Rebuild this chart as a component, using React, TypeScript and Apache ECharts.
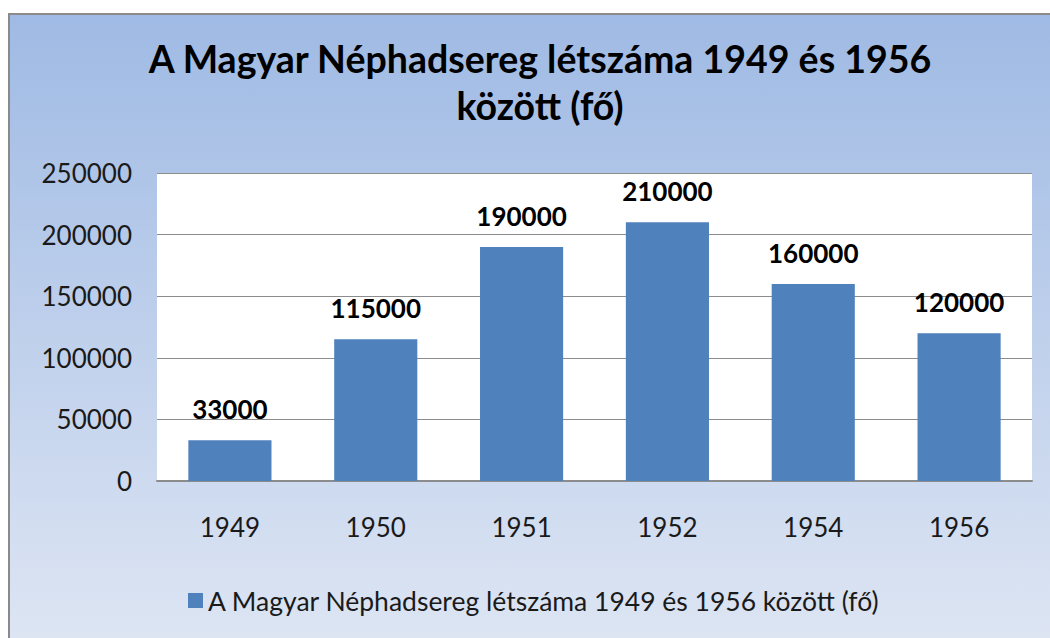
import React, { useEffect, useRef } from "react";
import * as echarts from "echarts";

const categories = ["1949", "1950", "1951", "1952", "1954", "1956"];
const values = [33000, 115000, 190000, 210000, 160000, 120000];
const seriesName = "A Magyar Néphadsereg létszáma 1949 és 1956 között (fő)";
const titleText = "A Magyar Néphadsereg létszáma 1949 és 1956\nközött (fő)";

const FONT = "Lato, 'Open Sans', sans-serif";

export default function App() {
  const ref = useRef<HTMLDivElement>(null);
  useEffect(() => {
    if (!ref.current) return;
    const chart = echarts.init(ref.current, undefined, { renderer: "svg" });
    chart.setOption({
      animation: false,
      backgroundColor: new echarts.graphic.LinearGradient(0, 0, 0, 1, [
        { offset: 0, color: "#9fbae4" },
        { offset: 1, color: "#dde5f3" },
      ]),
      textStyle: { fontFamily: FONT },
      title: {
        text: titleText,
        left: 525,
        textAlign: "center",
        top: 15,
        textStyle: {
          fontFamily: FONT,
          fontSize: 37.5,
          fontWeight: "bold",
          color: "#000000",
          lineHeight: 47,
        },
      },
      legend: {
        data: [seriesName],
        left: 173,
        top: 567,
        itemWidth: 15,
        itemHeight: 15,
        itemGap: 7,
        icon: "rect",
        textStyle: { fontFamily: FONT, fontSize: 26.5, color: "#1a1a1a" },
      },
      grid: {
        left: 147,
        right: 18,
        top: 158,
        bottom: 157,
        show: true,
        backgroundColor: "#ffffff",
        borderWidth: 0,
      },
      xAxis: {
        type: "category",
        data: categories,
        axisLine: { show: true, lineStyle: { color: "#8c8c8c", width: 2 } },
        axisTick: { show: false },
        axisLabel: { fontFamily: FONT, fontSize: 26, color: "#1a1a1a", margin: 33 },
      },
      yAxis: {
        type: "value",
        min: 0,
        max: 250000,
        interval: 50000,
        axisLine: { show: false },
        axisTick: { show: false },
        splitLine: { lineStyle: { color: "#8c8c8c", width: 1 } },
        axisLabel: {
          fontFamily: FONT,
          fontSize: 26,
          color: "#1a1a1a",
          margin: 25,
          formatter: (v: number) => String(v),
        },
      },
      series: [
        {
          name: seriesName,
          type: "bar",
          data: values,
          barWidth: "57%",
          itemStyle: { color: "#4f81bd" },
          label: {
            show: true,
            position: "top",
            distance: 18,
            fontFamily: FONT,
            fontSize: 26,
            fontWeight: "bold",
            color: "#000000",
          },
        },
      ],
    });
    return () => chart.dispose();
  }, []);
  return (
    <div
      ref={ref}
      style={{
        position: "absolute",
        left: 8,
        top: 13,
        width: 1042,
        height: 625,
        borderLeft: "2px solid #8a8a8a",
        borderTop: "2px solid #8a8a8a",
        boxSizing: "border-box",
      }}
    />
  );
}
